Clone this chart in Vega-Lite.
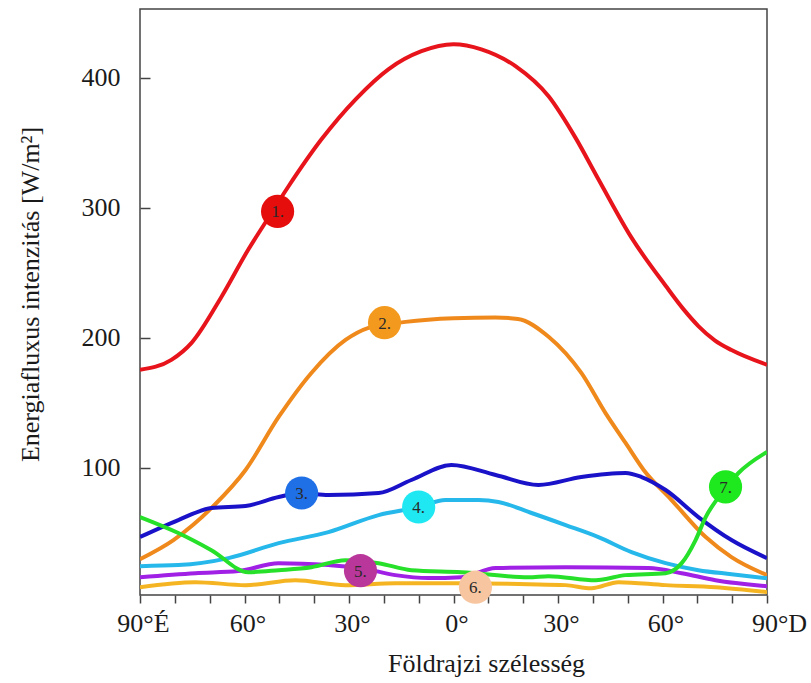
{
  "$schema": "https://vega.github.io/schema/vega-lite/v6.json",
  "width": 627,
  "height": 586,
  "autosize": {"type": "none"},
  "padding": {"left": 140, "top": 9, "right": 44, "bottom": 88},
  "background": "white",
  "config": {
    "view": {"stroke": "#444", "strokeWidth": 1.5},
    "font": "Liberation Serif"
  },
  "datasets": {
    "curves": [
      {"lat": -90, "val": 175.3, "series": "1"},
      {"lat": -81, "val": 183.0, "series": "1"},
      {"lat": -75.2, "val": 196.1, "series": "1"},
      {"lat": -66.6, "val": 231.6, "series": "1"},
      {"lat": -58.9, "val": 267.9, "series": "1"},
      {"lat": -54, "val": 288.7, "series": "1"},
      {"lat": -47.4, "val": 316.4, "series": "1"},
      {"lat": -37.9, "val": 352.7, "series": "1"},
      {"lat": -28.1, "val": 383.5, "series": "1"},
      {"lat": -18.7, "val": 406.6, "series": "1"},
      {"lat": -9.2, "val": 420.5, "series": "1"},
      {"lat": 0, "val": 425.9, "series": "1"},
      {"lat": 8, "val": 422, "series": "1"},
      {"lat": 17.8, "val": 409, "series": "1"},
      {"lat": 27.3, "val": 385.8, "series": "1"},
      {"lat": 35, "val": 354, "series": "1"},
      {"lat": 41.6, "val": 322, "series": "1"},
      {"lat": 51.1, "val": 277, "series": "1"},
      {"lat": 60.9, "val": 240, "series": "1"},
      {"lat": 66, "val": 222, "series": "1"},
      {"lat": 70.3, "val": 209, "series": "1"},
      {"lat": 75, "val": 198, "series": "1"},
      {"lat": 79.8, "val": 190.5, "series": "1"},
      {"lat": 90, "val": 179.2, "series": "1"},

      {"lat": -90, "val": 29.6, "series": "2"},
      {"lat": -80.4, "val": 44.3, "series": "2"},
      {"lat": -68.9, "val": 70.5, "series": "2"},
      {"lat": -59.7, "val": 98.2, "series": "2"},
      {"lat": -50.2, "val": 139, "series": "2"},
      {"lat": -40.8, "val": 172.9, "series": "2"},
      {"lat": -31, "val": 198.3, "series": "2"},
      {"lat": -24.4, "val": 207.6, "series": "2"},
      {"lat": -13.8, "val": 212.2, "series": "2"},
      {"lat": 0, "val": 215.0, "series": "2"},
      {"lat": 12, "val": 215.6, "series": "2"},
      {"lat": 18.5, "val": 214.5, "series": "2"},
      {"lat": 27.3, "val": 200.8, "series": "2"},
      {"lat": 36.7, "val": 172.9, "series": "2"},
      {"lat": 43.6, "val": 142.2, "series": "2"},
      {"lat": 49.4, "val": 119, "series": "2"},
      {"lat": 54.6, "val": 98.2, "series": "2"},
      {"lat": 62.6, "val": 75.1, "series": "2"},
      {"lat": 72.4, "val": 46.6, "series": "2"},
      {"lat": 79.8, "val": 31.2, "series": "2"},
      {"lat": 90, "val": 17.3, "series": "2"},

      {"lat": -90, "val": 46.6, "series": "3"},
      {"lat": -79, "val": 59.7, "series": "3"},
      {"lat": -69.5, "val": 68.9, "series": "3"},
      {"lat": -59.7, "val": 70.5, "series": "3"},
      {"lat": -50.2, "val": 77.4, "series": "3"},
      {"lat": -43.6, "val": 80.5, "series": "3"},
      {"lat": -35.9, "val": 79, "series": "3"},
      {"lat": -21.5, "val": 80.5, "series": "3"},
      {"lat": -12.1, "val": 90.5, "series": "3"},
      {"lat": -0.6, "val": 102.1, "series": "3"},
      {"lat": 12.1, "val": 94.4, "series": "3"},
      {"lat": 24.4, "val": 86.7, "series": "3"},
      {"lat": 36.7, "val": 92.8, "series": "3"},
      {"lat": 49.4, "val": 95.9, "series": "3"},
      {"lat": 54, "val": 92.8, "series": "3"},
      {"lat": 60.9, "val": 82.8, "series": "3"},
      {"lat": 70.3, "val": 62, "series": "3"},
      {"lat": 79.8, "val": 44.3, "series": "3"},
      {"lat": 90, "val": 30.4, "series": "3"},

      {"lat": -90, "val": 24.2, "series": "4"},
      {"lat": -79, "val": 25, "series": "4"},
      {"lat": -64.6, "val": 30.4, "series": "4"},
      {"lat": -50.2, "val": 41.9, "series": "4"},
      {"lat": -35.9, "val": 50.4, "series": "4"},
      {"lat": -21.5, "val": 63.5, "series": "4"},
      {"lat": -10, "val": 69.6, "series": "4"},
      {"lat": -2.3, "val": 75.1, "series": "4"},
      {"lat": 7.2, "val": 75.1, "series": "4"},
      {"lat": 12.9, "val": 73.6, "series": "4"},
      {"lat": 22.4, "val": 65.1, "series": "4"},
      {"lat": 32.2, "val": 55.8, "series": "4"},
      {"lat": 41.6, "val": 46.6, "series": "4"},
      {"lat": 51.1, "val": 35, "series": "4"},
      {"lat": 60.9, "val": 26.5, "series": "4"},
      {"lat": 70.3, "val": 21.1, "series": "4"},
      {"lat": 79.8, "val": 18, "series": "4"},
      {"lat": 90, "val": 14.9, "series": "4"},

      {"lat": -90, "val": 15.7, "series": "5"},
      {"lat": -74.1, "val": 18.8, "series": "5"},
      {"lat": -61.7, "val": 20.4, "series": "5"},
      {"lat": -50.2, "val": 26.5, "series": "5"},
      {"lat": -35.9, "val": 25, "series": "5"},
      {"lat": -26.4, "val": 22.7, "series": "5"},
      {"lat": -16.7, "val": 17.3, "series": "5"},
      {"lat": -7.2, "val": 15, "series": "5"},
      {"lat": 2.3, "val": 15.7, "series": "5"},
      {"lat": 12.1, "val": 22.7, "series": "5"},
      {"lat": 32.2, "val": 23.4, "series": "5"},
      {"lat": 56, "val": 22.7, "series": "5"},
      {"lat": 65.5, "val": 18.8, "series": "5"},
      {"lat": 75.2, "val": 13.4, "series": "5"},
      {"lat": 90, "val": 8.8, "series": "5"},

      {"lat": -90, "val": 8, "series": "6"},
      {"lat": -74.1, "val": 11.9, "series": "6"},
      {"lat": -59.7, "val": 9.6, "series": "6"},
      {"lat": -45.4, "val": 13.4, "series": "6"},
      {"lat": -31, "val": 9.6, "series": "6"},
      {"lat": -16.7, "val": 11.1, "series": "6"},
      {"lat": 2.3, "val": 11.1, "series": "6"},
      {"lat": 21.5, "val": 10.3, "series": "6"},
      {"lat": 32.2, "val": 9.6, "series": "6"},
      {"lat": 39.6, "val": 7.2, "series": "6"},
      {"lat": 47.4, "val": 11.9, "series": "6"},
      {"lat": 60.9, "val": 9.6, "series": "6"},
      {"lat": 75.2, "val": 8, "series": "6"},
      {"lat": 90, "val": 4.2, "series": "6"},

      {"lat": -90, "val": 62, "series": "7"},
      {"lat": -79, "val": 49.7, "series": "7"},
      {"lat": -69.5, "val": 36.5, "series": "7"},
      {"lat": -58.9, "val": 19.6, "series": "7"},
      {"lat": -50.2, "val": 21.1, "series": "7"},
      {"lat": -40.8, "val": 23.4, "series": "7"},
      {"lat": -31, "val": 28.8, "series": "7"},
      {"lat": -21.5, "val": 26.5, "series": "7"},
      {"lat": -12.1, "val": 21.1, "series": "7"},
      {"lat": 2.3, "val": 19.6, "series": "7"},
      {"lat": 21.5, "val": 15.7, "series": "7"},
      {"lat": 27.3, "val": 16.5, "series": "7"},
      {"lat": 40.8, "val": 13.4, "series": "7"},
      {"lat": 49.4, "val": 17.3, "series": "7"},
      {"lat": 60.9, "val": 18.8, "series": "7"},
      {"lat": 65.5, "val": 26.5, "series": "7"},
      {"lat": 69.5, "val": 44.3, "series": "7"},
      {"lat": 72.4, "val": 62, "series": "7"},
      {"lat": 76.1, "val": 77.4, "series": "7"},
      {"lat": 81.8, "val": 95.9, "series": "7"},
      {"lat": 90, "val": 112.1, "series": "7"}
    ],
    "labels": [
      {"lat": -50.5, "val": 297.2, "label": "1."},
      {"lat": -19.8, "val": 211.6, "label": "2."},
      {"lat": -43.6, "val": 80.5, "label": "3."},
      {"lat": -10, "val": 69.7, "label": "4."},
      {"lat": -26.7, "val": 20.7, "label": "5."},
      {"lat": 6.3, "val": 8, "label": "6."},
      {"lat": 78.1, "val": 85.2, "label": "7."}
    ]
  },
  "encoding": {
    "x": {
      "field": "lat", "type": "quantitative",
      "scale": {"domain": [-90, 90], "nice": false, "zero": false},
      "axis": {
        "values": [-90, -80, -70, -60, -50, -40, -30, -20, -10, 0, 10, 20, 30, 40, 50, 60, 70, 80, 90],
        "labelExpr": "datum.value % 30 != 0 ? '' : (datum.value == -90 ? '90°É' : (datum.value == 90 ? '90°D' : abs(datum.value) + '°'))",
        "labelOffset": {"condition": {"test": "datum.value == 90", "value": 12}, "value": 3},
        "labelFont": "Liberation Serif", "labelFontSize": 26, "labelColor": "#1a1a1a",
        "labelPadding": 7, "labelOverlap": false, "labelFlush": false,
        "tickSize": 8, "tickColor": "#444", "tickWidth": 1.5,
        "domain": false, "grid": false,
        "title": "Földrajzi szélesség",
        "titleFont": "Liberation Serif", "titleFontSize": 26, "titleFontWeight": "normal", "titleColor": "#1a1a1a",
        "titleX": 346, "titleY": 68, "titleAlign": "center", "titleBaseline": "middle"
      }
    },
    "y": {
      "field": "val", "type": "quantitative",
      "scale": {"domain": [2, 453], "nice": false, "zero": false},
      "axis": {
        "values": [100, 200, 300, 400],
        "labelFont": "Liberation Serif", "labelFontSize": 26, "labelColor": "#1a1a1a",
        "tickSize": -10, "labelPadding": 30, "tickColor": "#444", "tickWidth": 1.5,
        "domain": false, "grid": false,
        "title": "Energiafluxus intenzitás [W/m²]",
        "titleFont": "Liberation Serif", "titleFontSize": 26, "titleFontWeight": "normal", "titleColor": "#1a1a1a",
        "titleAngle": -90, "titleX": -110, "titleY": 285, "titleAlign": "center", "titleBaseline": "middle"
      }
    }
  },
  "layer": [
    {
      "data": {"name": "curves"},
      "mark": {"type": "line", "interpolate": "monotone", "strokeWidth": 4, "clip": true},
      "encoding": {
        "stroke": {
          "field": "series", "type": "nominal", "legend": null,
          "scale": {"domain": ["1", "2", "3", "4", "5", "6", "7"],
                    "range": ["#e8141c", "#f0891c", "#1a12c8", "#26b8ea", "#a020e6", "#f5b522", "#26e02a"]}
        },
        "detail": {"field": "series"}
      }
    },
    {
      "data": {"name": "labels"},
      "mark": {"type": "point", "shape": "circle", "filled": true, "size": 1100, "opacity": 1},
      "encoding": {
        "fill": {
          "field": "label", "type": "nominal", "legend": null,
          "scale": {"domain": ["1.", "2.", "3.", "4.", "5.", "6.", "7."],
                    "range": ["#e60d0d", "#f39a1e", "#1f6fe6", "#20e8f2", "#b9379a", "#f7c59f", "#1ee81e"]}
        }
      }
    },
    {
      "data": {"name": "labels"},
      "mark": {"type": "text", "font": "Liberation Serif", "fontSize": 17, "color": "#2a2a2a", "baseline": "middle", "align": "center", "dy": 1},
      "encoding": {"text": {"field": "label"}}
    }
  ]
}
